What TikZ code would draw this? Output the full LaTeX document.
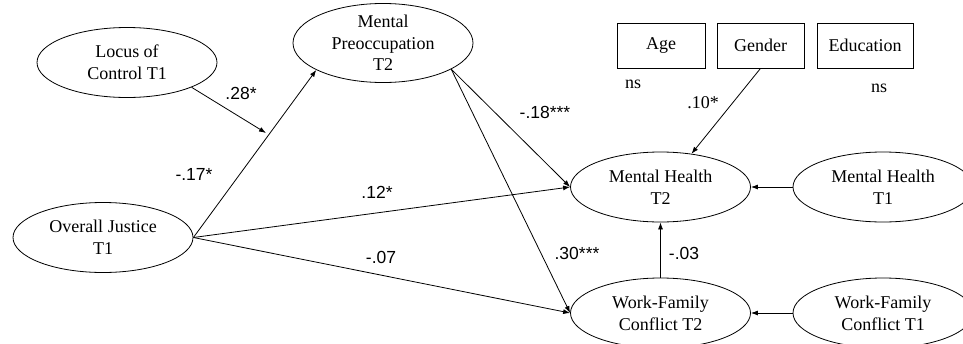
\documentclass[tikz,border=0pt]{standalone}
\usepackage{fontspec}
\setmainfont{Liberation Serif}
\setsansfont{Liberation Sans}
\usetikzlibrary{shapes.geometric,arrows.meta}
\begin{document}
\begin{tikzpicture}[x=1pt,y=-1pt,
  ell/.style={draw,ellipse,minimum width=180pt,minimum height=70pt,inner sep=0pt,align=center,
    font=\fontsize{18}{21.7}\selectfont,line width=0.8pt},
  box/.style={draw,rectangle,minimum height=45pt,inner sep=0pt,
    font=\fontsize{18}{21.7}\selectfont,line width=0.8pt},
  arr/.style={-{Latex[length=7pt,width=5pt]},line width=0.8pt},
  num/.style={font=\sffamily\fontsize{17.5}{20}\selectfont,inner sep=0pt},
  ser/.style={font=\fontsize{18}{20}\selectfont,inner sep=0pt}]
\useasboundingbox (0,0) rectangle (963,343);
\clip (0,0) rectangle (963,343);
% nodes
\node[ell] (loc) at (127,62.5) {Locus of\\Control T1};
\node[ell] (mp) at (383,43) {Mental\\Preoccupation\\T2};
\node[ell] (oj) at (103,237.5) {Overall Justice\\T1};
\node[ell] (mh2) at (660.5,187) {Mental Health\\T2};
\node[ell] (mh1) at (883,187) {Mental Health\\T1};
\node[ell] (wf2) at (660.5,313) {Work-Family\\Conflict T2};
\node[ell] (wf1) at (883,313) {Work-Family\\Conflict T1};
\node[box,minimum width=88pt] (age) at (661,45.5) {Age};
\node[box,minimum width=87pt] (gender) at (760.5,45.5) {Gender};
\node[box,minimum width=96pt] (edu) at (865,45.5) {Education};
\coordinate (m) at (266,133);
% connectors
\draw[arr] (loc.-21) -- (m);
\draw[arr] (oj.east) -- (mp.-158);
\draw[arr] (mp.-21) -- (mh2.west);
\draw[arr] (mp.-21) -- (wf2.west);
\draw[arr] (oj.east) -- (mh2.west);
\draw[arr] (oj.east) -- (wf2.west);
\draw[arr] (gender.south) -- (mh2.47);
\draw[arr] (mh1.west) -- (mh2.east);
\draw[arr] (wf1.west) -- (wf2.east);
\draw[arr] (wf2.north) -- (mh2.south);
% labels
\node[num] (l28) at (241,93) {.28*};
\node[num] (l17) at (194,174) {-.17*};
\node[num] (l12) at (377,192) {.12*};
\node[num] (l07) at (381,257) {-.07};
\node[num] (l18) at (545,112) {-.18***};
\node[num] (l30) at (577,253) {.30***};
\node[num] (l03) at (684,253) {-.03};
\node[ser] (l10) at (703,103) {.10*};
\node[ser] (nsa) at (633,84) {ns};
\node[ser] (nse) at (879,88) {ns};
\end{tikzpicture}
\end{document}
